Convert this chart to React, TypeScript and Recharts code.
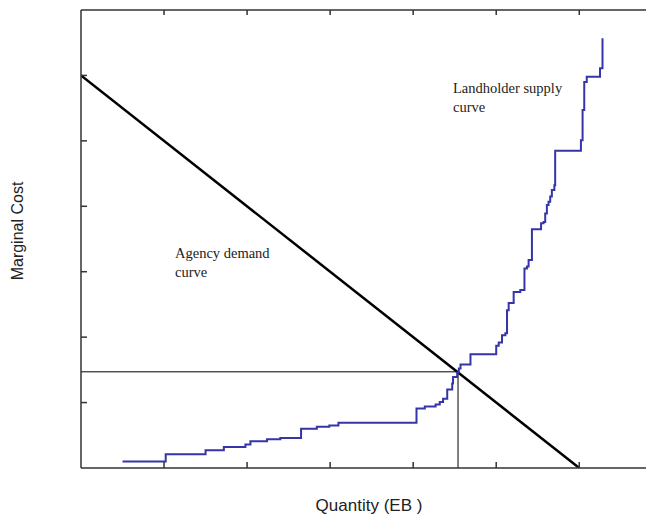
import { Line, LineChart, XAxis, YAxis } from "recharts";

// supply curve: left end of each step (quantity, marginal cost)
const supplyQty = [
  0.5, 1.02, 1.5, 1.72, 1.98, 2.04, 2.24, 2.4, 2.65, 2.84, 2.99, 3.1, 4.04,
  4.14, 4.27, 4.32, 4.36, 4.41, 4.47, 4.48, 4.53, 4.55, 4.57, 4.69, 5.0, 5.03,
  5.07, 5.11, 5.13, 5.15, 5.21, 5.29, 5.34, 5.37, 5.39, 5.43, 5.54, 5.57, 5.59,
  5.61, 5.63, 5.65, 5.67, 5.7, 5.71, 6.02, 6.04, 6.06, 6.09, 6.25, 6.28,
];
const supplyCost = [
  0.1, 0.21, 0.27, 0.32, 0.36, 0.41, 0.44, 0.46, 0.6, 0.63, 0.65, 0.69, 0.91,
  0.94, 0.97, 1.01, 1.06, 1.2, 1.29, 1.39, 1.46, 1.52, 1.58, 1.74, 1.87, 1.92,
  2.03, 2.06, 2.41, 2.52, 2.69, 2.72, 3.05, 3.08, 3.18, 3.65, 3.74, 3.76, 3.89,
  4.02, 4.07, 4.15, 4.25, 4.32, 4.85, 5.01, 5.47, 5.9, 5.98, 6.11, 6.57,
];

const demandQty = [0, 6];
const demandCost = [6, 0];

const eqQty = 4.54;
const eqCost = 1.47;

const xTicks = [1, 2, 3, 4, 5, 6];
const yTicks = [1, 2, 3, 4, 5, 6];

const supply = supplyQty.map((q, i) => ({ q, c: supplyCost[i] }));
const demand = demandQty.map((q, i) => ({ q, c: demandCost[i] }));
const priceLine = [
  { q: 0, c: eqCost },
  { q: eqQty, c: eqCost },
];
const qtyLine = [
  { q: eqQty, c: 0 },
  { q: eqQty, c: eqCost },
];

const W = 646;
const H = 510;
const axisColor = "#333";
const serif = '"Liberation Serif", "Times New Roman", serif';
const sans = '"Liberation Sans", Arial, sans-serif';

export default function App() {
  return (
    <div style={{ position: "relative", width: W, height: H }}>
      <LineChart
        width={W}
        height={H}
        margin={{ top: 2, right: 0, bottom: 50, left: 73 }}
      >
        <XAxis
          type="number"
          dataKey="q"
          domain={[0, 6.9]}
          ticks={xTicks}
          mirror
          tickSize={6}
          tickFormatter={() => ""}
          stroke={axisColor}
          strokeWidth={1.5}
          allowDataOverflow
        />
        <XAxis
          xAxisId="top"
          orientation="top"
          type="number"
          dataKey="q"
          domain={[0, 6.9]}
          ticks={xTicks}
          mirror
          tickSize={5}
          tickFormatter={() => ""}
          stroke={axisColor}
          strokeWidth={1.5}
          allowDataOverflow
        />
        <YAxis
          type="number"
          dataKey="c"
          domain={[0, 7]}
          ticks={yTicks}
          mirror
          tickSize={6}
          tickFormatter={() => ""}
          stroke={axisColor}
          strokeWidth={1.5}
          allowDataOverflow
        />
        <Line
          data={priceLine}
          dataKey="c"
          type="linear"
          stroke="#000"
          strokeWidth={1}
          dot={false}
          isAnimationActive={false}
        />
        <Line
          data={qtyLine}
          dataKey="c"
          type="linear"
          stroke="#000"
          strokeWidth={1}
          dot={false}
          isAnimationActive={false}
        />
        <Line
          data={demand}
          dataKey="c"
          type="linear"
          stroke="#000"
          strokeWidth={2.5}
          dot={false}
          isAnimationActive={false}
        />
        <Line
          data={supply}
          dataKey="c"
          type="stepAfter"
          stroke="#3535a8"
          strokeWidth={2}
          dot={false}
          isAnimationActive={false}
        />
      </LineChart>
      <svg
        width={W}
        height={H}
        style={{ position: "absolute", left: 0, top: 0, pointerEvents: "none" }}
      >
        <g fontFamily={serif} fontSize={14.5} fill="#222">
          <text x={167} y={250}>Agency demand</text>
          <text x={167} y={269}>curve</text>
          <text x={445} y={85}>Landholder supply</text>
          <text x={445} y={104}>curve</text>
        </g>
        <text
          x={361}
          y={503}
          textAnchor="middle"
          fontFamily={sans}
          fontSize={17}
          fill="#222"
        >
          Quantity (EB )
        </text>
        <text
          transform="translate(15,223) rotate(-90)"
          textAnchor="middle"
          fontFamily={sans}
          fontSize={16}
          fill="#222"
        >
          Marginal Cost
        </text>
      </svg>
    </div>
  );
}
